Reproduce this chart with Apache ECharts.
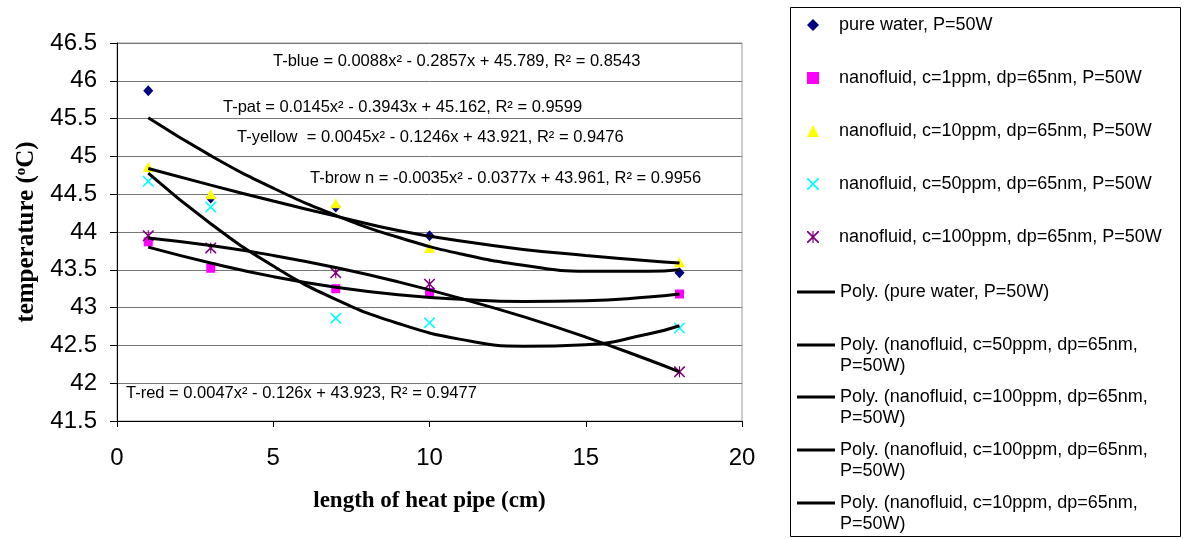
<!DOCTYPE html>
<html>
<head>
<meta charset="utf-8">
<title>temperature along the heat pipe</title>
<script src="https://cdn.jsdelivr.net/npm/echarts@6/dist/echarts.min.js"></script>
<style>
  html, body { margin: 0; padding: 0; background: #fff; }
  #main { width: 1184px; height: 539px; }
</style>
</head>
<body>
<div id="main"></div>
<script>
// measured points, x = length of heat pipe (cm)
const xPoints = [1, 3, 7, 10, 18];
const pureWater = [45.87, 44.45, 44.33, 43.95, 43.46];
const c1ppm = [43.87, 43.52, 43.25, 43.20, 43.18];
const c10ppm = [44.86, 44.50, 44.38, 43.79, 43.60];
const c50ppm = [44.67, 44.33, 42.86, 42.80, 42.73];
const c100ppm = [43.95, 43.79, 43.46, 43.31, 42.15];

// polynomial trendlines
const xTrend = [1, 3, 5, 7, 9, 11, 13, 15, 17, 18];
const trendPure = [45.51, 45.01, 44.58, 44.22, 43.93, 43.71, 43.56, 43.48, 43.48, 43.50];
const trend50 = [44.78, 44.11, 43.55, 43.11, 42.79, 42.58, 42.49, 42.51, 42.65, 42.76];
const trend100 = [43.92, 43.82, 43.69, 43.53, 43.34, 43.12, 42.88, 42.61, 42.31, 42.15];
const trend1 = [43.80, 43.59, 43.41, 43.27, 43.17, 43.11, 43.08, 43.09, 43.14, 43.18];
const trend10 = [44.84, 44.62, 44.41, 44.21, 44.02, 43.88, 43.77, 43.69, 43.62, 43.59];

const scatterNames = [
  'pure water, P=50W',
  'nanofluid, c=1ppm, dp=65nm, P=50W',
  'nanofluid, c=10ppm, dp=65nm, P=50W',
  'nanofluid, c=50ppm, dp=65nm, P=50W',
  'nanofluid, c=100ppm, dp=65nm, P=50W'
];
// legend order of the trendlines (as printed in the original legend)
const trendNames = [
  'Poly. (pure water, P=50W)',
  'Poly. (nanofluid, c=50ppm, dp=65nm,\nP=50W)',
  'Poly. (nanofluid, c=100ppm, dp=65nm,\nP=50W)',
  'Poly. (nanofluid, c=100ppm, dp=65nm,\nP=50W)',
  'Poly. (nanofluid, c=10ppm, dp=65nm,\nP=50W)'
];
const equations = [
  'T-blue = 0.0088x² - 0.2857x + 45.789, R² = 0.8543',
  'T-pat = 0.0145x² - 0.3943x + 45.162, R² = 0.9599',
  'T-yellow  = 0.0045x² - 0.1246x + 43.921, R² = 0.9476',
  'T-brow n = -0.0035x² - 0.0377x + 43.961, R² = 0.9956',
  'T-red = 0.0047x² - 0.126x + 43.923, R² = 0.9477'
];

const SANS = '"Liberation Sans", Arial, sans-serif';
const SERIF = '"Liberation Serif", "Times New Roman", serif';

const crossPath = 'path://M0,0L2,0L10,8L18,0L20,0L20,2L12,10L20,18L20,20L18,20L10,12L2,20L0,20L0,18L8,10L0,2Z';
const starPath = 'path://M0,0L2,0L10,8L18,0L20,0L20,2L12,10L20,18L20,20L18,20L10,12L2,20L0,20L0,18L8,10L0,2Z' +
  'M9,0L11,0L11,20L9,20Z';

const zip = (xs, ys) => xs.map((x, i) => [x, ys[i]]);

const scatterDefs = [
  { data: pureWater, color: '#000080', symbol: 'diamond', size: [10, 11] },
  { data: c1ppm, color: '#ff00ff', symbol: 'rect', size: 9 },
  { data: c10ppm, color: '#ffff00', symbol: 'triangle', size: [11, 10] },
  { data: c50ppm, color: '#00ffff', symbol: crossPath, size: 11 },
  { data: c100ppm, color: '#800080', symbol: starPath, size: 11 }
];
const trendDefs = [
  { id: 'tr0', data: trendPure },
  { id: 'tr1', data: trend50 },
  { id: 'tr2', data: trend100 },
  { id: 'tr3', data: trend1 },
  { id: 'tr4', data: trend10 }
];
const trendLabel = {};
trendDefs.forEach((t, i) => { trendLabel[t.id] = trendNames[i]; });

const series = [];
scatterDefs.forEach((s, i) => {
  series.push({
    name: scatterNames[i],
    type: 'scatter',
    symbol: s.symbol,
    symbolSize: s.size,
    itemStyle: { color: s.color, opacity: 1 },
    data: zip(xPoints, s.data)
  });
});
trendDefs.forEach(t => {
  series.push({
    name: t.id,
    type: 'line',
    smooth: true,
    symbol: 'none',
    showSymbol: false,
    lineStyle: { color: '#000', width: 3 },
    itemStyle: { color: '#000' },
    data: zip(xTrend, t.data)
  });
});

const legendText = { fontFamily: SANS, fontSize: 18, color: '#000', lineHeight: 21 };
const trendRowY = [292, 345, 397, 450, 503];
const legends = [{
  orient: 'vertical',
  left: 807,
  top: 14.5,
  padding: 0,
  itemWidth: 12,
  itemHeight: 12,
  itemGap: 32,
  selectedMode: false,
  textStyle: Object.assign({ padding: [0, 0, 0, 15] }, legendText),
  data: scatterNames
}];
trendDefs.forEach((t, i) => {
  const twoLines = trendNames[i].indexOf('\n') >= 0;
  legends.push({
    orient: 'vertical',
    left: 797,
    top: trendRowY[i] - (twoLines ? 31.5 : 10.5),
    padding: 0,
    icon: 'rect',
    itemWidth: 38,
    itemHeight: 3,
    selectedMode: false,
    textStyle: legendText,
    formatter: name => (twoLines ? '\n' : '') + trendLabel[name],
    data: [t.id]
  });
});

const eqPos = [[273, 61], [223, 107], [237, 137], [310, 178], [126, 393]];
const graphics = [{
  type: 'rect',
  shape: { x: 790.5, y: 7.5, width: 390, height: 529 },
  style: { fill: 'none', stroke: '#000', lineWidth: 1 },
  z: 0
}];
equations.forEach((txt, i) => {
  graphics.push({
    type: 'text',
    x: eqPos[i][0],
    y: eqPos[i][1],
    z: 100,
    style: { text: txt, fill: '#000', font: '16.5px ' + SANS, verticalAlign: 'middle' }
  });
});

const chart = echarts.init(document.getElementById('main'), null, { renderer: 'canvas' });
chart.setOption({
  animation: false,
  backgroundColor: '#fff',
  grid: {
    left: 117, top: 43, right: 442, bottom: 118,
    show: true, borderColor: '#999', borderWidth: 1
  },
  xAxis: {
    type: 'value',
    min: 0, max: 20, interval: 5,
    name: 'length of heat pipe (cm)',
    nameLocation: 'middle',
    nameGap: 69,
    nameTextStyle: { fontFamily: SERIF, fontWeight: 'bold', fontSize: 23, color: '#000' },
    axisLine: { show: true, lineStyle: { color: '#000', width: 1 } },
    axisTick: { show: true, length: 6, lineStyle: { color: '#000' } },
    axisLabel: { fontFamily: SANS, fontSize: 24, color: '#000', margin: 25 },
    splitLine: { show: false }
  },
  yAxis: {
    type: 'value',
    min: 41.5, max: 46.5, interval: 0.5,
    name: 'temperature ({sup|o}C)',
    nameLocation: 'middle',
    nameRotate: 90,
    nameGap: 78,
    nameTextStyle: {
      fontFamily: SERIF, fontWeight: 'bold', fontSize: 25, color: '#000',
      rich: { sup: { fontFamily: SERIF, fontWeight: 'bold', fontSize: 15, color: '#000', verticalAlign: 'top' } }
    },
    axisLine: { show: true, lineStyle: { color: '#000', width: 1 } },
    axisTick: { show: true, length: 7, lineStyle: { color: '#000' } },
    axisLabel: { fontFamily: SANS, fontSize: 24, color: '#000', margin: 20 },
    splitLine: { show: true, lineStyle: { color: '#777', width: 1 } }
  },
  legend: legends,
  graphic: graphics,
  series: series
});
</script>
</body>
</html>
